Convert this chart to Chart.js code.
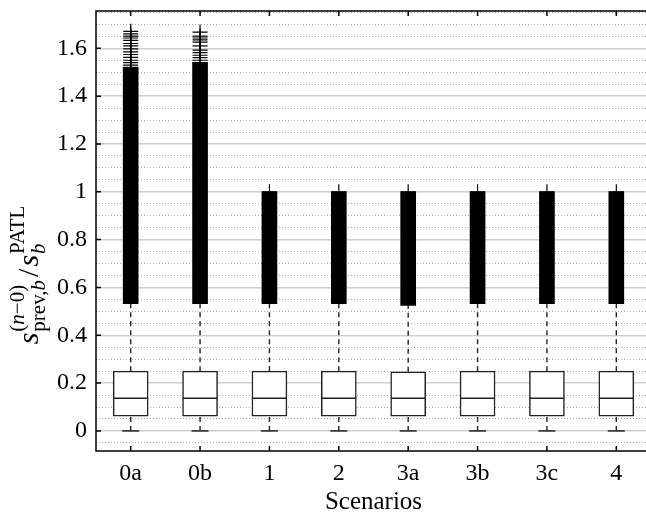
<!DOCTYPE html>
<html><head><meta charset="utf-8">
<script src="https://cdn.jsdelivr.net/npm/chart.js@4.4.1/dist/chart.umd.min.js"></script>
<style>html,body{margin:0;padding:0;background:#fff;overflow:hidden;width:646px;height:515px}</style>
</head><body>
<canvas id="c" width="652" height="515" style="display:block;width:652px;height:515px"></canvas>
<script>
// ---- data ----
const categories = ['0a','0b','1','2','3a','3b','3c','4'];
const lowerWhisker = [0, 0, 0, 0, 0, 0, 0, 0];
const q1 = [0.062, 0.062, 0.062, 0.062, 0.062, 0.062, 0.062, 0.062];
const median = [0.137, 0.137, 0.137, 0.137, 0.137, 0.137, 0.137, 0.137];
const q3 = [0.25, 0.25, 0.25, 0.25, 0.247, 0.25, 0.25, 0.25];
const upperWhisker = [0.532, 0.532, 0.532, 0.532, 0.525, 0.532, 0.532, 0.532];
// densely packed outliers (appear as a solid column) from the upper whisker up to:
const denseOutlierTop = [1.52, 1.54, 1.0, 1.0, 1.0, 1.0, 1.0, 1.0];
// individually visible outliers above the dense column
const sparseOutliers0a = [1.671, 1.66, 1.651, 1.643, 1.633, 1.62, 1.61, 1.598, 1.585, 1.574, 1.562, 1.55, 1.54, 1.53];
const sparseOutliers0b = [1.668, 1.651, 1.643, 1.635, 1.626, 1.61, 1.592, 1.582, 1.571, 1.561, 1.55];
const yTickValues = [0, 0.2, 0.4, 0.6, 0.8, 1, 1.2, 1.4, 1.6];
const yMin = -0.084, yMax = 1.756;

const SERIF = '"Liberation Serif", "DejaVu Serif", serif';
const INK = '#222';

// ---- build datasets ----
const whiskerPts = [];
categories.forEach((c, i) => {
  whiskerPts.push({x: c, y: q3[i]}, {x: c, y: upperWhisker[i]}, {x: c, y: null});
  whiskerPts.push({x: c, y: lowerWhisker[i]}, {x: c, y: q1[i]}, {x: c, y: null});
});
const outlierPts = [];
categories.forEach((c, i) => outlierPts.push({x: c, y: denseOutlierTop[i]}));
sparseOutliers0a.forEach(v => outlierPts.push({x: '0a', y: v}));
sparseOutliers0b.forEach(v => outlierPts.push({x: '0b', y: v}));

const isMajor = v => Math.abs(v / 0.2 - Math.round(v / 0.2)) < 1e-6;
const noPad = s => { s.paddingTop = 0; s.paddingBottom = 0; s.paddingLeft = 0; s.paddingRight = 0; };

function drawYTitle(ctx, bx, cy) {
  const big = 30, small = 21;
  const F = (sz, it) => (it ? 'italic ' : '') + sz + 'px ' + SERIF;
  const supDy = -14, subDy = 6.5;
  const parts = [
    {runs: [{t: 's', f: F(big, 1)}], gap: 1},
    {sup: [{t: '(', f: F(small)}, {t: 'n', f: F(small, 1)}, {t: '\u22120)', f: F(small)}],
     sub: [{t: 'prev,', f: F(small)}, {t: 'b', f: F(small, 1)}], gap: 3},
    {runs: [{t: '/', f: F(big)}], gap: 2},
    {runs: [{t: 's', f: F(big, 1)}], gap: 1},
    {sup: [{t: 'PATL', f: F(small)}], sub: [{t: 'b', f: F(small, 1)}], gap: 0}
  ];
  const runW = rs => rs.reduce((s, r) => { ctx.font = r.f; return s + ctx.measureText(r.t).width; }, 0);
  parts.forEach(p => { p.w = (p.runs ? runW(p.runs) : Math.max(runW(p.sup), runW(p.sub))) + p.gap; });
  const total = parts.reduce((s, p) => s + p.w, 0);
  ctx.save();
  ctx.translate(bx, cy);
  ctx.rotate(-Math.PI / 2);
  ctx.fillStyle = '#000';
  ctx.textBaseline = 'alphabetic';
  ctx.textAlign = 'left';
  let x = -total / 2;
  const drawRuns = (rs, x0, dy) => { let xx = x0; rs.forEach(r => { ctx.font = r.f; ctx.fillText(r.t, xx, dy); xx += ctx.measureText(r.t).width; }); };
  parts.forEach(p => {
    if (p.runs) drawRuns(p.runs, x, 0);
    else { drawRuns(p.sup, x, supDy); drawRuns(p.sub, x, subDy); }
    x += p.w;
  });
  ctx.restore();
}

const framePlugin = {
  id: 'frame',
  afterDraw(chart) {
    const {ctx, chartArea: a, scales: {x, y}} = chart;
    ctx.save();
    ctx.strokeStyle = '#000';
    ctx.lineWidth = 1.5;
    ctx.strokeRect(a.left, a.top, a.right - a.left, a.bottom - a.top);
    ctx.beginPath();
    yTickValues.forEach(v => {
      const p = y.getPixelForValue(v);
      ctx.moveTo(a.left, p); ctx.lineTo(a.left + 5, p);
      ctx.moveTo(a.right, p); ctx.lineTo(a.right - 5, p);
    });
    categories.forEach((c, i) => {
      const p = x.getPixelForValue(i);
      ctx.moveTo(p, a.bottom); ctx.lineTo(p, a.bottom - 5);
      ctx.moveTo(p, a.top); ctx.lineTo(p, a.top + 5);
    });
    ctx.stroke();
    ctx.restore();
    drawYTitle(ctx, 38, 275);
  }
};

new Chart(document.getElementById('c'), {
  type: 'bar',
  data: {
    labels: categories,
    datasets: [
      { type: 'line', label: 'outliers', data: outlierPts, showLine: false, order: 0,
        pointStyle: 'cross', pointRadius: 7.5, pointBorderColor: '#000', pointBorderWidth: 1.2, pointBackgroundColor: '#000' },
      { type: 'bar', label: 'dense outliers', data: categories.map((c, i) => [upperWhisker[i], denseOutlierTop[i]]),
        backgroundColor: '#000', borderWidth: 0, barThickness: 15, grouped: false, order: 1 },
      { type: 'line', label: 'caps', data: lowerWhisker, showLine: false, order: 2,
        pointStyle: 'line', pointRadius: 8.5, pointBorderColor: INK, pointBorderWidth: 1.5 },
      { type: 'line', label: 'median', data: median, showLine: false, order: 3,
        pointStyle: 'line', pointRadius: 17.5, pointBorderColor: INK, pointBorderWidth: 1.5 },
      { type: 'bar', label: 'box', data: categories.map((c, i) => [q1[i], q3[i]]),
        backgroundColor: '#fff', borderColor: INK, borderWidth: 1.5, borderSkipped: false,
        barThickness: 35, grouped: false, order: 4 },
      { type: 'line', label: 'whiskers', data: whiskerPts, spanGaps: false, order: 5,
        borderColor: INK, borderWidth: 1.4, borderDash: [5, 4], pointRadius: 0, fill: false }
    ]
  },
  options: {
    responsive: false,
    animation: false,
    devicePixelRatio: 1,
    layout: {autoPadding: false, padding: {left: 0, right: 1, top: 11, bottom: 0}},
    plugins: {legend: {display: false}, tooltip: {enabled: false}},
    scales: {
      x: {
        type: 'category',
        offset: true,
        grid: {display: false, drawTicks: false},
        border: {display: false},
        ticks: {color: '#000', padding: 11, font: {family: SERIF, size: 24, lineHeight: 1}},
        title: {display: true, text: 'Scenarios', color: '#000', padding: 0, font: {family: SERIF, size: 25, lineHeight: 1}},
        afterFit: s => { s.height = 64; noPad(s); }
      },
      y: {
        type: 'linear', position: 'left', min: yMin, max: yMax,
        grid: {color: '#cfcfcf', lineWidth: 1.5, drawTicks: false},
        border: {display: false},
        ticks: {color: '#000', padding: 9, font: {family: SERIF, size: 24},
                callback: v => String(+(+v).toFixed(2))},
        afterBuildTicks: s => { s.ticks = yTickValues.map(v => ({value: v})); },
        afterFit: s => { s.width = 96; noPad(s); }
      },
      y2: {
        type: 'linear', position: 'left', min: yMin, max: yMax,
        grid: {color: c => (c.tick && isMajor(c.tick.value)) ? 'rgba(0,0,0,0)' : '#a9a9a9', lineWidth: 1, drawTicks: false},
        border: {display: false, dash: [1, 2]},
        ticks: {display: false, stepSize: 0.05, includeBounds: false},
        afterFit: s => { s.width = 0; noPad(s); }
      }
    }
  },
  plugins: [framePlugin]
});
</script>
</body></html>
